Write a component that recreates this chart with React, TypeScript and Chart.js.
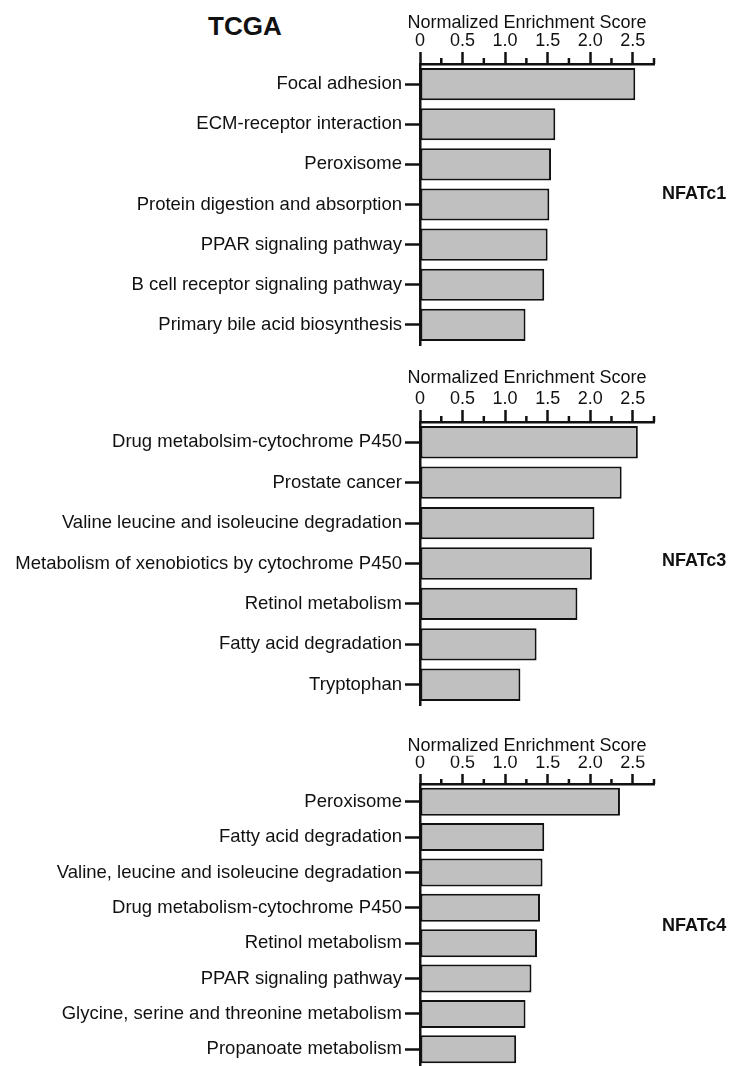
import React, { useEffect, useRef } from 'react';
import { Chart, registerables } from 'chart.js';

Chart.register(...registerables);

// ---------- data ----------
const axisTitle = 'Normalized Enrichment Score';
const majorTicks = [0, 0.5, 1, 1.5, 2, 2.5];
const tickLabels = ['0', '0.5', '1.0', '1.5', '2.0', '2.5'];
const minorTicks = [0.25, 0.75, 1.25, 1.75, 2.25, 2.75];
const xMin = 0;
const xMax = 2.75;

const figureTitle = 'TCGA';

const nfatc1Name = 'NFATc1';
const nfatc1Pathways = [
  'Focal adhesion',
  'ECM-receptor interaction',
  'Peroxisome',
  'Protein digestion and absorption',
  'PPAR signaling pathway',
  'B cell receptor signaling pathway',
  'Primary bile acid biosynthesis',
];
const nfatc1Scores = [2.53, 1.59, 1.54, 1.52, 1.5, 1.46, 1.24];

const nfatc3Name = 'NFATc3';
const nfatc3Pathways = [
  'Drug metabolsim-cytochrome P450',
  'Prostate cancer',
  'Valine leucine and isoleucine degradation',
  'Metabolism of xenobiotics by cytochrome P450',
  'Retinol metabolism',
  'Fatty acid degradation',
  'Tryptophan',
];
const nfatc3Scores = [2.56, 2.37, 2.05, 2.02, 1.85, 1.37, 1.18];

const nfatc4Name = 'NFATc4';
const nfatc4Pathways = [
  'Peroxisome',
  'Fatty acid degradation',
  'Valine, leucine and isoleucine degradation',
  'Drug metabolism-cytochrome P450',
  'Retinol metabolism',
  'PPAR signaling pathway',
  'Glycine, serine and threonine metabolism',
  'Propanoate metabolism',
];
const nfatc4Scores = [2.35, 1.46, 1.44, 1.41, 1.375, 1.31, 1.24, 1.13];

// ---------- style ----------
const FONT = '"Liberation Sans", Arial, Helvetica, sans-serif';
const INK = '#111111';
const BAR_FILL = '#c0c0c0';

Chart.defaults.font.family = FONT;
Chart.defaults.color = INK;

const minorTickPlugin = {
  id: 'minorTicks',
  afterDraw(chart: any, _args: any, opts: any) {
    const xs = chart.scales.x;
    const ctx = chart.ctx;
    const top = chart.chartArea.top;
    ctx.save();
    ctx.strokeStyle = INK;
    ctx.lineWidth = 2.5;
    for (const v of minorTicks) {
      const px = xs.getPixelForValue(v);
      ctx.beginPath();
      ctx.moveTo(px, top);
      ctx.lineTo(px, top - opts.length);
      ctx.stroke();
    }
    ctx.restore();
  },
};

type PanelProps = {
  labels: string[];
  values: number[];
  top: number;
  height: number;
  titlePad: number;
  axisH: number;
  tickLen: number;
  minorLen: number;
  barPct: number;
};

const TITLE_LINE = 21.6;

function Panel(p: PanelProps) {
  const ref = useRef<HTMLCanvasElement>(null);
  useEffect(() => {
    if (!ref.current) return;
    const chart = new Chart(ref.current, {
      type: 'bar',
      data: {
        labels: p.labels,
        datasets: [
          {
            data: p.values,
            backgroundColor: BAR_FILL,
            borderColor: INK,
            borderWidth: 2,
            borderSkipped: false,
            barPercentage: p.barPct,
            categoryPercentage: 1,
          },
        ],
      },
      plugins: [minorTickPlugin],
      options: {
        indexAxis: 'y',
        responsive: false,
        maintainAspectRatio: false,
        animation: false,
        devicePixelRatio: 1,
        layout: { padding: { left: 0, right: 78, top: p.titlePad + TITLE_LINE, bottom: 5 } },
        plugins: {
          legend: { display: false },
          tooltip: { enabled: false },
          title: { display: false },
          // @ts-ignore
          minorTicks: { length: p.minorLen },
        },
        scales: {
          x: {
            type: 'linear',
            position: 'top',
            min: xMin,
            max: xMax,
            afterBuildTicks: (s: any) => {
              s.ticks = majorTicks.map((v) => ({ value: v }));
            },
            afterFit: (s: any) => {
              s.height = p.axisH;
            },
            ticks: {
              callback: (_v: any, i: number) => tickLabels[i],
              padding: 0,
              color: INK,
              font: { size: 18, family: FONT },
              maxRotation: 0,
              autoSkip: false,
            },
            grid: {
              drawOnChartArea: false,
              drawTicks: true,
              tickLength: p.tickLen,
              tickWidth: 2.5,
              tickColor: INK,
            },
            border: { display: true, color: INK, width: 2.5 },
          },
          y: {
            type: 'category',
            position: 'left',
            afterFit: (s: any) => {
              s.width = 420;
              s.paddingTop = 0;
              s.paddingBottom = 0;
            },
            ticks: {
              padding: 3,
              color: INK,
              font: { size: 18.5, family: FONT },
              autoSkip: false,
            },
            grid: {
              offset: false,
              drawOnChartArea: false,
              drawTicks: true,
              tickLength: 15,
              tickWidth: 2.5,
              tickColor: INK,
            },
            border: { display: true, color: INK, width: 2.5 },
          },
        },
      } as any,
    });
    return () => chart.destroy();
  }, []);
  return (
    <>
      <canvas
        ref={ref}
        width={732}
        height={p.height}
        style={{ position: 'absolute', left: 0, top: p.top, width: 732, height: p.height }}
      />
      <div
        style={{
          position: 'absolute',
          left: 527 - 160,
          width: 320,
          top: p.top + p.titlePad + TITLE_LINE / 2 - 11,
          height: 22,
          lineHeight: '22px',
          textAlign: 'center',
          fontFamily: FONT,
          fontSize: 18,
          color: INK,
          whiteSpace: 'nowrap',
        }}
      >
        {axisTitle}
      </div>
    </>
  );
}

const sideLabel = (text: string, centerY: number) => (
  <div
    style={{
      position: 'absolute',
      left: 662,
      top: centerY - 10,
      height: 20,
      lineHeight: '20px',
      fontFamily: FONT,
      fontWeight: 'bold',
      fontSize: 18,
      color: INK,
      whiteSpace: 'nowrap',
    }}
  >
    {text}
  </div>
);

export default function App() {
  return (
    <div
      style={{
        position: 'absolute',
        left: 0,
        top: 0,
        width: 732,
        height: 1066,
        overflow: 'hidden',
        background: '#ffffff',
      }}
    >
      <div
        style={{
          position: 'absolute',
          left: 208,
          top: 11,
          lineHeight: '30px',
          fontFamily: FONT,
          fontWeight: 'bold',
          fontSize: 26,
          color: INK,
        }}
      >
        {figureTitle}
      </div>
      <Panel labels={nfatc1Pathways} values={nfatc1Scores} top={0} height={350} titlePad={10.7} axisH={31.7} tickLen={12} minorLen={6} barPct={0.8} />
      <Panel labels={nfatc3Pathways} values={nfatc3Scores} top={350} height={360} titlePad={16.2} axisH={34.2} tickLen={12} minorLen={6} barPct={0.8} />
      <Panel labels={nfatc4Pathways} values={nfatc4Scores} top={720} height={352} titlePad={14.2} axisH={28.2} tickLen={10} minorLen={5} barPct={0.79} />
      {sideLabel(nfatc1Name, 193)}
      {sideLabel(nfatc3Name, 560)}
      {sideLabel(nfatc4Name, 925)}
    </div>
  );
}
